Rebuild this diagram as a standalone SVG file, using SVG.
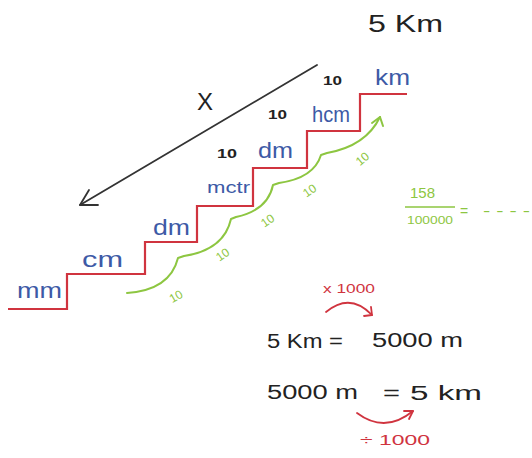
<svg xmlns="http://www.w3.org/2000/svg" width="532" height="458" viewBox="0 0 532 458">
<style>
  text { font-family: "Liberation Sans", "DejaVu Sans", sans-serif; }
  .blue { fill: #3d5aa6; font-size: 22px; }
  .blk { fill: #222; font-size: 22px; }
  .ten { fill: #222; font-size: 13px; font-weight: bold; }
  .gten { fill: #8dc641; font-size: 12px; }
  .grn { fill: #8dc641; }
  .red { fill: #d0343f; }
  .stair { fill: none; stroke: #d0343f; stroke-width: 2.2; stroke-linejoin: miter; }
  .garc { fill: none; stroke: #8dc641; stroke-width: 2; stroke-linecap: round; stroke-linejoin: round; }
  .rarc { fill: none; stroke: #d0343f; stroke-width: 1.8; stroke-linecap: round; stroke-linejoin: round; }
  .karc { fill: none; stroke: #333; stroke-width: 1.8; stroke-linecap: round; stroke-linejoin: round; }
</style>
<rect width="532" height="458" fill="#ffffff"/>

<g id="stairs">
  <path class="stair" d="M8,309 L67,309 L67,274 L145,274 L145,242 L197,242 L197,206 L253,206 L253,168 L307,168 L307,131 L360,131 L360,94 L407,94"/>
</g>

<g id="connectors">
  <g id="arrow-x">
    <path class="karc" d="M317,65 L80,205"/>
    <path class="karc" d="M98,205 L80,205 L89,190"/>
  </g>
  <g id="arrow-green">
    <path class="garc" d="M127,293 Q170,290 178,258 L184,256 Q224,250 231,219 L236,217 Q268,210 273,185 L279,183 Q314,178 321,155 L327,153 Q366,146 380,117"/>
    <path class="garc" d="M372,123 L380,117 L383,126"/>
  </g>
  <g id="arrow-times">
    <path class="rarc" d="M326,312 Q350,292 372,315"/>
    <path class="rarc" d="M371,307 L372,315 L364,316"/>
  </g>
  <g id="arrow-divide">
    <path class="rarc" d="M357,413 Q385,434 413,411"/>
    <path class="rarc" d="M404,411 L413,411 L409,419"/>
  </g>
</g>

<g id="unit-labels">
  <g id="mm"><text class="blue" x="17" y="298" textLength="45" lengthAdjust="spacingAndGlyphs">mm</text></g>
  <g id="cm"><text class="blue" x="82" y="267" textLength="41" lengthAdjust="spacingAndGlyphs">cm</text></g>
  <g id="dm"><text class="blue" x="153" y="235" textLength="37" lengthAdjust="spacingAndGlyphs">dm</text></g>
  <g id="mctr"><text class="blue" x="207" y="193" font-size="17" style="font-size:17px" textLength="43" lengthAdjust="spacingAndGlyphs">mctr</text></g>
  <g id="dm2"><text class="blue" x="258" y="158" textLength="35" lengthAdjust="spacingAndGlyphs">dm</text></g>
  <g id="hcm"><text class="blue" x="312" y="122" textLength="38" lengthAdjust="spacingAndGlyphs">hcm</text></g>
  <g id="km"><text class="blue" x="375" y="85" textLength="35" lengthAdjust="spacingAndGlyphs">km</text></g>
</g>

<g id="factors">
  <text class="ten" x="217" y="158" textLength="20" lengthAdjust="spacingAndGlyphs">10</text>
  <text class="ten" x="268" y="119" textLength="19" lengthAdjust="spacingAndGlyphs">10</text>
  <text class="ten" x="323" y="85" textLength="19" lengthAdjust="spacingAndGlyphs">10</text>
  <text class="blk" x="197" y="110" style="font-size:24px">X</text>
  <text class="blk" x="368" y="32" style="font-size:24px" textLength="75" lengthAdjust="spacingAndGlyphs">5 Km</text>
</g>

<g id="green-tens">
  <text class="gten" text-anchor="middle" transform="translate(178,300) rotate(-30)">10</text>
  <text class="gten" text-anchor="middle" transform="translate(225,258) rotate(-35)">10</text>
  <text class="gten" text-anchor="middle" transform="translate(270,224) rotate(-35)">10</text>
  <text class="gten" text-anchor="middle" transform="translate(312,194) rotate(-35)">10</text>
  <text class="gten" text-anchor="middle" transform="translate(365,162) rotate(-40)">10</text>
</g>

<g id="fraction">
  <text class="grn" x="410" y="198" style="font-size:14px" textLength="25" lengthAdjust="spacingAndGlyphs">158</text>
  <line x1="405" y1="207" x2="455" y2="207" stroke="#8dc641" stroke-width="1.5"/>
  <text class="grn" x="407" y="224" style="font-size:11px" textLength="46" lengthAdjust="spacingAndGlyphs">100000</text>
  <text class="grn" x="460" y="216" style="font-size:14px">=</text>
  <text class="grn" x="483" y="216" style="font-size:14px" textLength="47" lengthAdjust="spacingAndGlyphs">- - - -</text>
</g>

<g id="equations">
  <text class="red" x="323" y="293" style="font-size:13px" textLength="52" lengthAdjust="spacingAndGlyphs">x 1000</text>
  <text class="blk" x="267" y="348" style="font-size:20px" textLength="76" lengthAdjust="spacingAndGlyphs">5 Km =</text>
  <text class="blk" x="372" y="347" style="font-size:20px" textLength="91" lengthAdjust="spacingAndGlyphs">5000 m</text>
  <text class="blk" x="267" y="399" style="font-size:20px" textLength="91" lengthAdjust="spacingAndGlyphs">5000 m</text>
  <text class="blk" x="383" y="400" style="font-size:20px" textLength="17" lengthAdjust="spacingAndGlyphs">=</text>
  <text class="blk" x="410" y="400" style="font-size:20px" textLength="72" lengthAdjust="spacingAndGlyphs">5 km</text>
  <text class="red" x="360" y="445" style="font-size:14px" textLength="70" lengthAdjust="spacingAndGlyphs">÷ 1000</text>
</g>
</svg>
